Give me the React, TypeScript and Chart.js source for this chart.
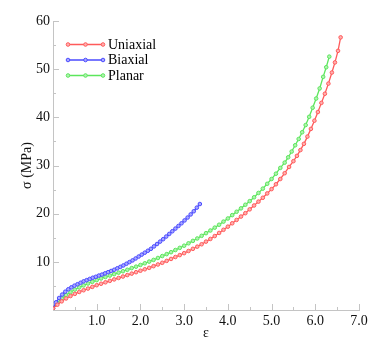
import React, { useEffect, useRef } from "react";
import { Chart, registerables } from "chart.js";

Chart.register(...registerables);

const seriesNames = ["Uniaxial", "Biaxial", "Planar"];
const seriesColors = ["#ff5a5a", "#4a4aff", "#5ce65c"];
const pointFills = ["#ffb0b0", "#a8a8ff", "#b0f2b0"];

const uniaxialX = [
  0.0, 0.1, 0.2, 0.3, 0.4, 0.5, 0.6, 0.7, 0.8, 0.9, 1.0, 1.1, 1.2, 1.3, 1.4, 1.5,
  1.6, 1.7, 1.8, 1.9, 2.0, 2.1, 2.2, 2.3, 2.4, 2.5, 2.6, 2.7, 2.8, 2.9, 3.0, 3.1,
  3.2, 3.3, 3.4, 3.5, 3.6, 3.7, 3.8, 3.9, 4.0, 4.1, 4.2, 4.3, 4.4, 4.5, 4.6, 4.7,
  4.8, 4.9, 5.0, 5.1, 5.2, 5.3, 5.4, 5.5, 5.58, 5.66, 5.74, 5.82, 5.9, 5.98, 6.06,
  6.14, 6.22, 6.3, 6.38, 6.45, 6.52, 6.58,
];
const uniaxialY = [
  0.3, 1.1, 1.8, 2.4, 2.9, 3.35, 3.75, 4.1, 4.45, 4.8, 5.15, 5.45, 5.75, 6.05, 6.35, 6.65,
  6.95, 7.25, 7.55, 7.85, 8.15, 8.45, 8.75, 9.1, 9.45, 9.8, 10.2, 10.6, 11.0, 11.4, 11.8, 12.25,
  12.7, 13.15, 13.65, 14.2, 14.75, 15.35, 16.0, 16.65, 17.3, 18.0, 18.7, 19.4, 20.1, 20.9, 21.7, 22.5,
  23.3, 24.2, 25.1, 26.1, 27.2, 28.4, 29.7, 30.9, 32.0, 33.2, 34.5, 36.0, 37.6, 39.3, 41.1,
  43.0, 44.9, 47.0, 49.3, 51.4, 53.8, 56.6,
];

const biaxialX = [
  0.0, 0.07, 0.14, 0.21, 0.28, 0.35, 0.42, 0.49, 0.56, 0.63, 0.7, 0.77, 0.84, 0.91, 0.98,
  1.05, 1.12, 1.19, 1.26, 1.33, 1.4, 1.47, 1.54, 1.61, 1.68, 1.75, 1.82, 1.89, 1.96, 2.03,
  2.1, 2.17, 2.24, 2.31, 2.38, 2.45, 2.52, 2.59, 2.66, 2.73, 2.8, 2.87, 2.94, 3.01, 3.08,
  3.15, 3.22, 3.29, 3.36,
];
const biaxialY = [
  0.3, 1.6, 2.5, 3.2, 3.8, 4.3, 4.7, 5.05, 5.35, 5.65, 5.95, 6.2, 6.45, 6.7, 6.9,
  7.15, 7.35, 7.6, 7.85, 8.1, 8.35, 8.65, 8.95, 9.25, 9.6, 9.95, 10.3, 10.7, 11.1, 11.5,
  11.9, 12.3, 12.7, 13.2, 13.7, 14.2, 14.7, 15.25, 15.8, 16.35, 16.9, 17.45, 18.0, 18.6, 19.2,
  19.85, 20.5, 21.25, 22.0,
];

const planarX = [
  0.0, 0.1, 0.2, 0.3, 0.4, 0.5, 0.6, 0.7, 0.8, 0.9, 1.0, 1.1, 1.2, 1.3, 1.4, 1.5,
  1.6, 1.7, 1.8, 1.9, 2.0, 2.1, 2.2, 2.3, 2.4, 2.5, 2.6, 2.7, 2.8, 2.9, 3.0, 3.1,
  3.2, 3.3, 3.4, 3.5, 3.6, 3.7, 3.8, 3.9, 4.0, 4.1, 4.2, 4.3, 4.4, 4.5, 4.6, 4.7,
  4.8, 4.9, 5.0, 5.1, 5.2, 5.3, 5.38, 5.46, 5.54, 5.62, 5.7, 5.78, 5.86, 5.94, 6.02,
  6.1, 6.18, 6.25, 6.32,
];
const planarY = [
  0.3, 1.5, 2.4, 3.1, 3.7, 4.25, 4.7, 5.1, 5.5, 5.85, 6.2, 6.55, 6.85, 7.15, 7.45, 7.75,
  8.05, 8.35, 8.7, 9.0, 9.35, 9.7, 10.05, 10.4, 10.8, 11.2, 11.6, 12.0, 12.45, 12.9, 13.35, 13.85,
  14.35, 14.85, 15.4, 15.95, 16.5, 17.1, 17.7, 18.35, 19.0, 19.7, 20.4, 21.1, 21.85, 22.6, 23.4, 24.3,
  25.2, 26.2, 27.2, 28.3, 29.5, 30.6, 31.7, 32.9, 34.2, 35.5, 36.9, 38.4, 40.1, 42.0, 43.9,
  46.0, 48.4, 50.4, 52.6,
];

const xMin = 0;
const xMax = 7;
const yMin = 0;
const yMax = 60;

const FONT = "'Liberation Serif', 'Times New Roman', Times, 'DejaVu Serif', serif";
const AXIS_COLOR = "#c4c4c4";

function pts(xs: number[], ys: number[]) {
  return xs.map((x, i) => ({ x, y: ys[i] }));
}

const tickPlugin = {
  id: "inwardTicks",
  afterDraw(chart: any) {
    const { ctx, chartArea, scales } = chart;
    const xs = scales.x;
    const ys = scales.y;
    ctx.save();
    ctx.strokeStyle = AXIS_COLOR;
    ctx.lineWidth = 1;
    ctx.beginPath();
    for (let i = 1; i <= 14; i++) {
      const v = i * 0.5;
      const px = Math.round(xs.getPixelForValue(v)) + 0.5;
      const len = i % 2 === 0 ? 6 : 3;
      ctx.moveTo(px, chartArea.bottom);
      ctx.lineTo(px, chartArea.bottom - len);
    }
    for (let i = 1; i <= 12; i++) {
      const v = i * 5;
      const py = Math.round(ys.getPixelForValue(v)) + 0.5;
      const len = i % 2 === 0 ? 6 : 3;
      ctx.moveTo(chartArea.left, py);
      ctx.lineTo(chartArea.left + len, py);
    }
    ctx.stroke();

    // legend
    const rows = [44.5, 60, 75.5];
    const x0 = 68;
    const x1 = 103;
    ctx.font = "14px " + FONT;
    ctx.textBaseline = "middle";
    ctx.textAlign = "left";
    chart.data.datasets.forEach((ds: any, i: number) => {
      const y = rows[i];
      ctx.strokeStyle = ds.borderColor;
      ctx.lineWidth = 1.3;
      ctx.beginPath();
      ctx.moveTo(x0, y);
      ctx.lineTo(x1, y);
      ctx.stroke();
      [x0, (x0 + x1) / 2, x1].forEach((mx) => {
        ctx.beginPath();
        ctx.arc(mx, y, 1.8, 0, Math.PI * 2);
        ctx.fillStyle = ds.pointBackgroundColor;
        ctx.fill();
        ctx.lineWidth = 1;
        ctx.strokeStyle = ds.borderColor;
        ctx.stroke();
      });
      ctx.fillStyle = "#000";
      ctx.fillText(ds.label, 108, y + 0.5);
    });
    ctx.restore();
  },
};

export default function App() {
  const ref = useRef<HTMLCanvasElement | null>(null);

  useEffect(() => {
    document.body.style.margin = "0";
    const canvas = ref.current;
    if (!canvas) return;
    let chart: Chart | null = null;
    let cancelled = false;
    const build = () => {
      if (cancelled) return;
      const data = [
        pts(uniaxialX, uniaxialY),
        pts(biaxialX, biaxialY),
        pts(planarX, planarY),
      ];
      chart = new Chart(canvas, {
        type: "scatter",
        data: {
          datasets: seriesNames.map((name, i) => ({
            label: name,
            data: data[i],
            showLine: true,
            borderColor: seriesColors[i],
            backgroundColor: seriesColors[i],
            pointBackgroundColor: pointFills[i],
            pointBorderColor: seriesColors[i],
            borderWidth: 1.3,
            pointRadius: 1.8,
            pointBorderWidth: 1,
            tension: 0,
          })),
        },
        options: {
          responsive: false,
          animation: false,
          devicePixelRatio: 1,
          layout: { padding: { left: 0, right: 31, top: 21, bottom: 0 } },
          plugins: {
            legend: { display: false },
            tooltip: { enabled: false },
          },
          scales: {
            x: {
              type: "linear",
              min: xMin,
              max: xMax,
              grid: { display: true, drawOnChartArea: false, drawTicks: false },
              border: { display: true, color: AXIS_COLOR, width: 1 },
              ticks: {
                stepSize: 1,
                padding: 3,
                color: "#111",
                font: { family: FONT, size: 14 },
                maxRotation: 0,
                callback: (v: any) => (Number(v) === 0 ? "" : Number(v).toFixed(1)),
              },
              title: {
                display: true,
                text: "ε",
                color: "#111",
                font: { family: FONT, size: 14 },
                padding: { top: 0, bottom: 14 },
              },
              afterFit: (s: any) => {
                s.height = 46;
              },
            },
            y: {
              type: "linear",
              min: yMin,
              max: yMax,
              grid: { display: true, drawOnChartArea: false, drawTicks: false },
              border: { display: true, color: AXIS_COLOR, width: 1 },
              ticks: {
                stepSize: 10,
                padding: 3,
                color: "#111",
                font: { family: FONT, size: 14 },
                callback: (v: any) => (Number(v) === 0 ? "" : String(v)),
              },
              title: {
                display: true,
                text: "σ (MPa)",
                color: "#111",
                font: { family: FONT, size: 14 },
                padding: { top: 19, bottom: 0 },
              },
              afterFit: (s: any) => {
                s.width = 53;
              },
            },
          },
        },
        plugins: [tickPlugin],
      });
    };
    const fonts: any = (document as any).fonts;
    if (fonts && fonts.load) {
      Promise.all([
        fonts.load("14px 'Liberation Serif'", "σε0123456789UniaxlBbPr()M"),
        fonts.load("14px 'Times New Roman'"),
      ])
        .catch(() => null)
        .then(build);
    } else {
      build();
    }
    return () => {
      cancelled = true;
      if (chart) chart.destroy();
    };
  }, []);

  return (
    <div style={{ position: "absolute", left: 0, top: 0, width: 390, height: 356, background: "#fff" }}>
      <canvas ref={ref} width={390} height={356} style={{ width: 390, height: 356, display: "block" }} />
    </div>
  );
}
